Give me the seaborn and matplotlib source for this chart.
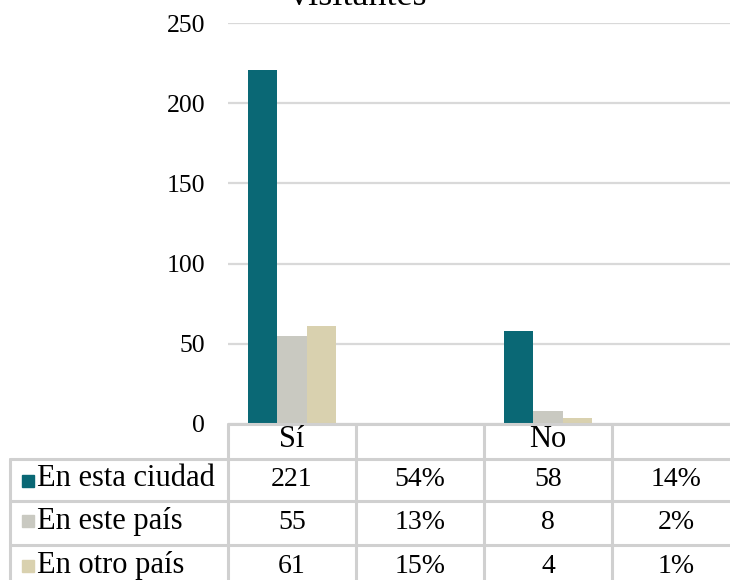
import matplotlib
matplotlib.use("Agg")
import matplotlib.pyplot as plt
import pandas as pd
import seaborn as sns


# =========================
# DATA
# =========================
columns = ["Sí", "Sí %", "No", "No %"]
header_labels = ["Sí", "", "No", ""]
series = ["En esta ciudad", "En este país", "En otro país"]
counts_si = [221, 55, 61]
counts_no = [58, 8, 4]
pct_si = [0.54, 0.13, 0.15]
pct_no = [0.14, 0.02, 0.01]
y_ticks = [0, 50, 100, 150, 200, 250]
title = "visitantes"

colors = ["#0A6875", "#C9C9C1", "#D9D1AF"]
grid_color = "#D9D9D9"
table_color = "#D0D0D0"


def build_frame():
    rows = []
    for values, col in zip([counts_si, pct_si, counts_no, pct_no], columns):
        for serie, value in zip(series, values):
            rows.append({"col": col, "serie": serie, "valor": value})
    return pd.DataFrame(rows)


def main():
    df = build_frame()

    sns.set_theme(style="white")
    plt.rcParams["font.family"] = ["Liberation Serif", "DejaVu Serif"]
    plt.rcParams["text.color"] = "black"

    W, H = 730, 580
    fig = plt.figure(figsize=(W / 100, H / 100), dpi=100)

    # plot area: x 228..740 px, y 23..424 px (from top)
    ax = fig.add_axes([228 / W, (H - 424) / H, 512 / W, 401 / H])

    sns.barplot(
        data=df, x="col", y="valor", hue="serie",
        order=columns, hue_order=series, palette=colors,
        width=0.68, saturation=1, legend=False, ax=ax,
        linewidth=0,
    )

    ax.set_xlim(-0.5, 3.5)
    ax.set_ylim(0, 250)
    ax.set_yticks(y_ticks)
    ax.set_xticks([])
    ax.set_xlabel("")
    ax.set_ylabel("")
    ax.yaxis.grid(True, color=grid_color, linewidth=1.6)
    ax.set_axisbelow(True)
    ax.tick_params(axis="y", length=0, pad=16.5, labelsize=18.5, colors="black")
    for spine in ax.spines.values():
        spine.set_visible(False)

    fig.text(358 / W, 1 - 5 / H, title, ha="center", va="baseline", fontsize=26)

    # =========================
    # DATA TABLE
    # =========================
    tax = fig.add_axes([228 / W, -8 / H, 512 / W, 164 / H])
    tax.set_xlim(-0.5, 3.5)
    tax.set_ylim(588, 424)
    tax.axis("off")

    px = lambda p: (p - 228) / 128 - 0.5
    line_kw = dict(color=table_color, linewidth=2.2, clip_on=False, zorder=3)

    tax.plot([-0.5, 3.5], [424, 424], **line_kw)
    for y in [459, 501, 545]:
        tax.plot([px(10), 3.5], [y, y], **line_kw)
    for x in [-0.5, 0.5, 1.5, 2.5, 3.5]:
        tax.plot([x, x], [424, 588], **line_kw)
    tax.plot([px(10), px(10)], [459, 588], **line_kw)

    for i, label in enumerate(header_labels):
        tax.text(i, 447, label, ha="center", va="baseline", fontsize=22)

    baselines = [486, 529, 573]
    key_centers = [481, 521, 566]
    for r, serie in enumerate(series):
        tax.plot([px(27.5)], [key_centers[r]], marker="s", markersize=8.6,
                 color=colors[r], linestyle="none", clip_on=False)
        tax.text(px(37), baselines[r], serie, ha="left", va="baseline",
                 fontsize=22, clip_on=False)
        cells = [str(counts_si[r]), f"{pct_si[r]:.0%}",
                 str(counts_no[r]), f"{pct_no[r]:.0%}"]
        for i, cell in enumerate(cells):
            tax.text(i, baselines[r], cell, ha="center", va="baseline",
                     fontsize=20)

    fig.savefig("out.png", dpi=100)
    plt.close(fig)


if __name__ == "__main__":
    main()
